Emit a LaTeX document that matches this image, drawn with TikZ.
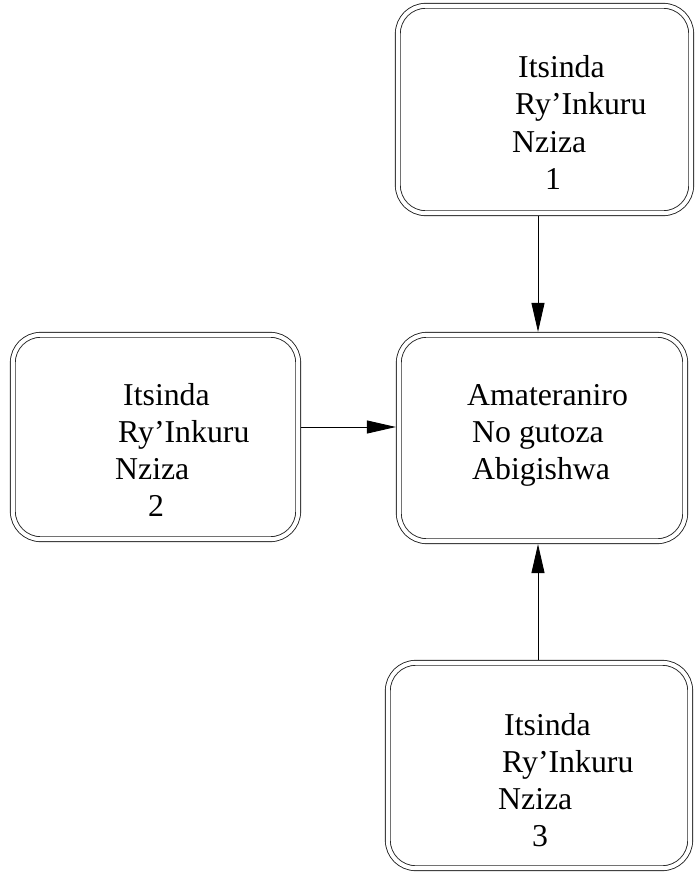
\documentclass[tikz,border=0pt]{standalone}
\usepackage{fontspec}
\setmainfont{Liberation Serif}
\usetikzlibrary{arrows.meta}

\begin{document}
\begin{tikzpicture}[x=1pt,y=-1pt,
  groupbox/.style={draw=black!85, line width=0.9pt, double=white,
    double distance=4pt, rounded corners=28pt, inner sep=0pt,
    outer sep=2.9pt, anchor=center},
  label/.style={anchor=base west, inner sep=0pt,
    font=\fontsize{31.8}{37}\selectfont},
  arr/.style={line width=0.9pt, -{Triangle[length=29pt,width=13pt]}}
]
\useasboundingbox (0,0) rectangle (695,872);

% the four double-lined rounded boxes
\node[groupbox, minimum width=293.4pt, minimum height=207.4pt] (top) at (544.5,109.5) {};
\node[groupbox, minimum width=286.4pt, minimum height=206.4pt] (mid) at (542,438) {};
\node[groupbox, minimum width=285.4pt, minimum height=204.4pt] (left) at (155.5,437) {};
\node[groupbox, minimum width=302.4pt, minimum height=205.4pt] (bot) at (539,765.5) {};

% texts of the top box
\node[label] (t1) at (518,78) {Itsinda};
\node[label] (t2) at (515,115) {Ry’Inkuru};
\node[label] (t3) at (512,152) {Nziza};
\node[label] (t4) at (545,189) {1};

% texts of the left box
\node[label] (l1) at (123,405) {Itsinda};
\node[label] (l2) at (118,442) {Ry’Inkuru};
\node[label] (l3) at (115,479) {Nziza};
\node[label] (l4) at (148,516) {2};

% texts of the central box
\node[label] (m1) at (467,405) {Amateraniro};
\node[label] (m2) at (472,442) {No gutoza};
\node[label] (m3) at (472,479) {Abigishwa};

% texts of the bottom box
\node[label] (b1) at (504,735) {Itsinda};
\node[label] (b2) at (502,772) {Ry’Inkuru};
\node[label] (b3) at (498,809) {Nziza};
\node[label] (b4) at (532,846) {3};

% connectors into the central box
\draw[arr] (top.south -| 538,0) -- (mid.north -| 538,0);
\draw[arr] (left.east |- 0,427) -- (mid.west |- 0,427);
\draw[arr] (bot.north -| 538,0) -- (mid.south -| 538,0);
\end{tikzpicture}
\end{document}
